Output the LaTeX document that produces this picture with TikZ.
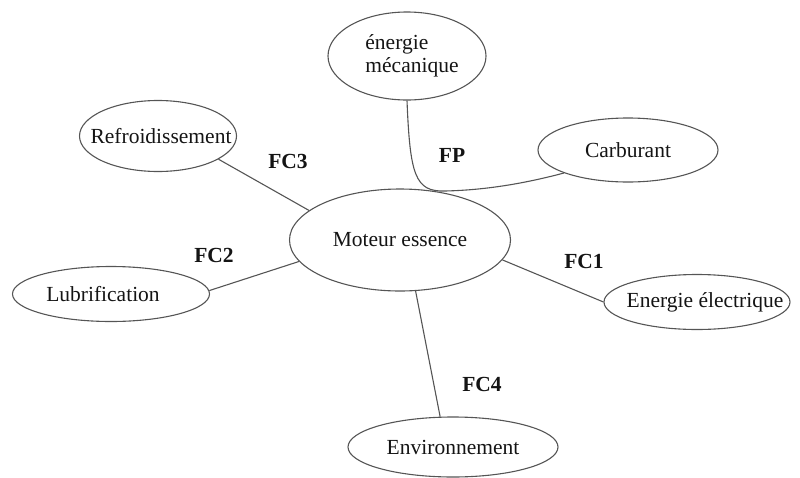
\documentclass[tikz,border=0pt]{standalone}
\usepackage{fontspec}
\setmainfont{Liberation Serif}
\usetikzlibrary{shapes.geometric}
\definecolor{edge}{RGB}{85,85,85}
\definecolor{ink}{RGB}{20,20,20}
% a label whose box has no width, so the ellipse keeps its given size;
% the optional argument nudges the text sideways
\newcommand{\flatlabel}[2][0pt]{\makebox[0pt]{\hspace*{#1}#2}}
\tikzset{
  bubble/.style={draw=edge, line width=1.1pt, ellipse, inner sep=0pt,
    text=ink, font=\fontsize{21.5}{23}\selectfont},
  link/.style={draw=edge, line width=1.1pt},
  tag/.style={text=ink, font=\fontsize{21.5}{25}\selectfont\bfseries, inner sep=0pt}
}
\begin{document}
\begin{tikzpicture}[x=1pt,y=-1pt]
  \useasboundingbox (0,0) rectangle (800,477);

  % central function holder and its surroundings
  \node[bubble, minimum width=221pt, minimum height=102pt] (mot)  at (400,240) {\flatlabel{Moteur essence}};
  \node[bubble, minimum width=158pt, minimum height=88pt]  (emec) at (407,56)
    {\flatlabel[10pt]{\begin{tabular}{@{}l@{}}énergie\\mécanique\end{tabular}}};
  \node[bubble, minimum width=180pt, minimum height=64pt]  (carb) at (628,150) {\flatlabel{Carburant}};
  \node[bubble, minimum width=157pt, minimum height=71pt]  (refr) at (158,136) {\flatlabel[6pt]{Refroidissement}};
  \node[bubble, minimum width=197pt, minimum height=55pt]  (lubr) at (111,294) {\flatlabel[-16pt]{Lubrification}};
  \node[bubble, minimum width=186pt, minimum height=55pt]  (elec) at (697,302) {\flatlabel[16pt]{Energie électrique}};
  \node[bubble, minimum width=210pt, minimum height=60pt]  (env)  at (453,447) {\flatlabel{Environnement}};

  % main function: links mechanical energy to fuel through the engine
  \draw[link] (emec.south) .. controls (410,175) and (415,192) .. (445,191)
              .. controls (490,190) and (530,182) .. (carb.south west);

  % constraint functions
  \draw[link] (refr.-21)  -- (mot.162);
  \draw[link] (lubr.2)    -- (mot.-168);
  \draw[link] (mot.-11)   -- (elec.180);
  \draw[link] (mot.-73.6) -- (env.113.4);

  % labels
  \node[tag] (fp)  at (452,155) {FP};
  \node[tag] (fc3) at (288,161) {FC3};
  \node[tag] (fc2) at (214,255) {FC2};
  \node[tag] (fc1) at (584,261) {FC1};
  \node[tag] (fc4) at (482,384) {FC4};
\end{tikzpicture}
\end{document}
